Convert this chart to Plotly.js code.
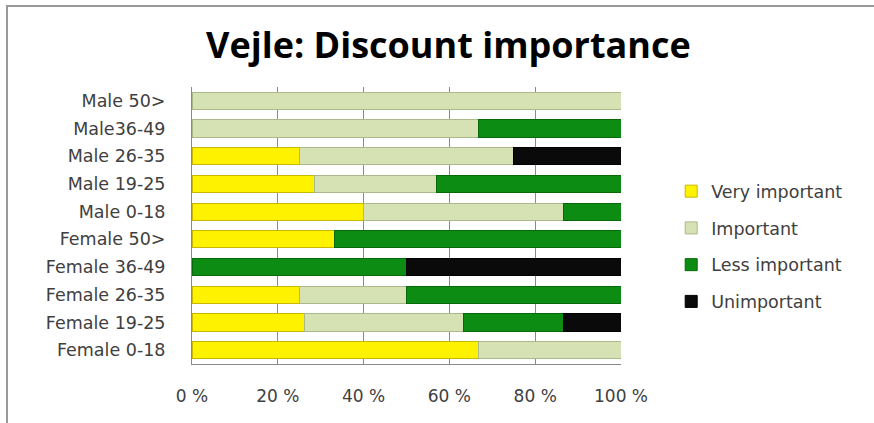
<!DOCTYPE html>
<html>
<head>
<meta charset="utf-8">
<script src="https://cdn.plot.ly/plotly-3.0.1.min.js"></script>
<style>
html,body{margin:0;padding:0;background:#fff;}
#wrap{position:relative;width:874px;height:423px;}
#chart{width:874px;height:423px;}
#frame{position:absolute;left:6px;top:5px;right:0;bottom:0;border-left:2px solid #999;border-top:2px solid #999;pointer-events:none;}
</style>
</head>
<body>
<div id="wrap"><div id="chart"></div><div id="frame"></div></div>
<script>
const categories = ["Female 0-18","Female 19-25","Female 26-35","Female 36-49","Female 50>","Male 0-18","Male 19-25","Male 26-35","Male36-49","Male 50>"];
const veryImportant = [66.7, 26.3, 25, 0, 33.3, 40, 28.6, 25, 0, 0];
const important     = [33.3, 36.9, 25, 0, 0, 46.7, 28.5, 50, 66.7, 100];
const lessImportant = [0, 23.5, 50, 50, 66.7, 13.3, 42.9, 0, 33.3, 0];
const unimportant   = [0, 13.3, 0, 50, 0, 0, 0, 25, 0, 0];
const seriesNames = ["Very important","Important","Less important","Unimportant"];
const xTicks = [0,20,40,60,80,100];
const xTickText = ["0 %","20 %","40 %","60 %","80 %","100 %"];

const fills = ["#FFF200","#D6E2B4","#0C8C12","#0A0A0A"];
const edges = ["#C8B800","#A9B98A","#066A0A","#000000"];
const vals = [veryImportant, important, lessImportant, unimportant];

const traces = vals.map((v,i)=>({
  type:'bar', orientation:'h', y:categories, x:v, name:seriesNames[i],
  legendgroup:'g'+i,
  marker:{color:fills[i], line:{color:edges[i], width:1}},
  hoverinfo:'skip'
}));

const lblFont = 'DejaVu Sans, sans-serif';
const layout = {
  width:874, height:423,
  margin:{l:192, r:253, t:87, b:59},
  paper_bgcolor:'#fff', plot_bgcolor:'#fff',
  barmode:'stack', bargap:0.38,
  font:{family:lblFont, size:16, color:'#404040'},
  title:{text:'<b>Vejle: Discount importance</b>', x:0.513, xanchor:'center', y:0.893, yanchor:'middle',
         font:{family:'Open Sans, sans-serif', size:36, color:'#000'}},
  xaxis:{range:[0,100], tickvals:xTicks, ticktext:xTickText, showgrid:true, gridcolor:'#8a8a8a', gridwidth:1,
         zeroline:false, showline:true, linecolor:'#8a8a8a', linewidth:1, ticks:'', ticklabelstandoff:17,
         tickfont:{family:lblFont, size:17, color:'#404040'}, fixedrange:true},
  yaxis:{type:'category', categoryorder:'array', categoryarray:categories, showgrid:false, zeroline:false,
         showline:true, linecolor:'#8a8a8a', linewidth:1, ticks:'', ticklabelstandoff:22,
         tickfont:{family:lblFont, size:17.5, color:'#404040'}, fixedrange:true},
  legend:{x:1.117, xanchor:'left', y:0.425, yanchor:'middle', traceorder:'grouped', tracegroupgap:11,
          font:{family:lblFont, size:17.5, color:'#404040'}, bgcolor:'rgba(0,0,0,0)', itemwidth:30},
  showlegend:true
};

Plotly.newPlot('chart', traces, layout, {staticPlot:true, displayModeBar:false});
</script>
</body>
</html>
